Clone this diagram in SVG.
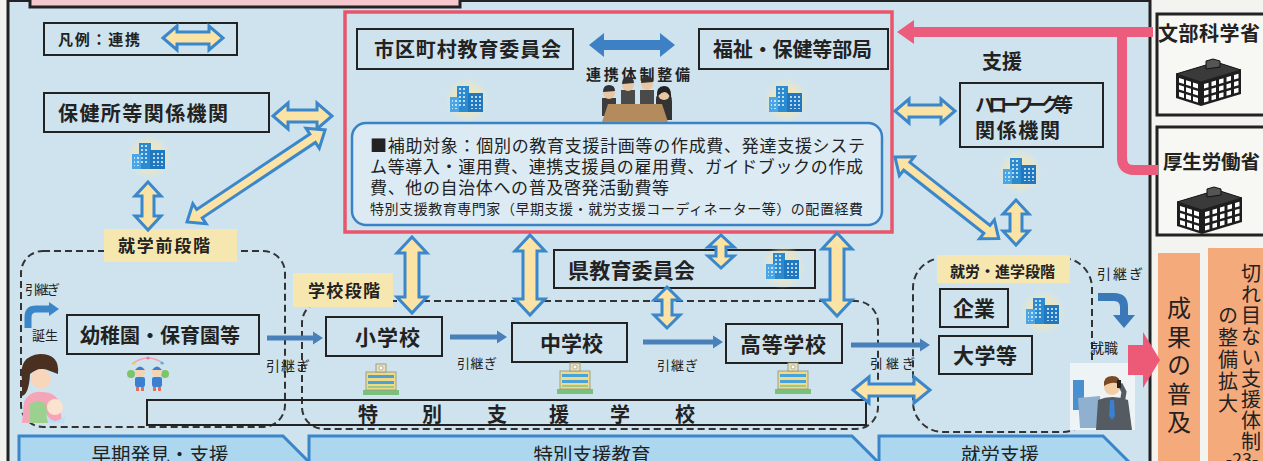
<svg xmlns="http://www.w3.org/2000/svg" width="1263" height="461" viewBox="0 0 1263 461">
  <style>
    .t { font-family: "Noto Sans CJK JP", "Noto Sans CJK SC", sans-serif; fill: #222; }
    .b { font-weight: 700; }
    .v { writing-mode: vertical-rl; }
    .box { fill: none; stroke: #222; stroke-width: 2; }
    .lbl { fill: #f6e7b1; }
    .dash { fill: none; stroke: #333; stroke-width: 2; stroke-dasharray: 7 4; }
    .dbl { fill: #fae3a5; stroke: #3b87cb; stroke-width: 3; stroke-linejoin: miter; }
    .arr { fill: #4a80b9; }
    .bar { fill: #acd7ee; stroke: #3a86c8; stroke-width: 3; }
    .org { fill: #f5aa7c; }
  </style>
  <defs>
    <radialGradient id="glow">
      <stop offset="0" stop-color="#fbe6a0" stop-opacity="0.95"/>
      <stop offset="0.6" stop-color="#f8e7b0" stop-opacity="0.6"/>
      <stop offset="1" stop-color="#f8e7b0" stop-opacity="0"/>
    </radialGradient>
    <pattern id="win" width="4" height="4" patternUnits="userSpaceOnUse">
      <rect width="2" height="2" fill="#dff0fb"/>
    </pattern>
    <!-- office building with soft glow -->
    <g id="bldg">
      <circle r="22" fill="url(#glow)"/>
      <rect x="-10" y="-14" width="12" height="26" fill="#2b8ad0"/>
      <rect x="-17" y="-3" width="9" height="15" fill="#4aa6e6"/>
      <rect x="1" y="-7" width="15" height="19" fill="#1f78c0"/>
      <rect x="-8" y="-12" width="8" height="20" fill="url(#win)" opacity="0.8"/>
      <rect x="3" y="-5" width="11" height="14" fill="url(#win)" opacity="0.8"/>
      <rect x="-15" y="-1" width="5" height="10" fill="url(#win)" opacity="0.8"/>
    </g>
    <!-- school building -->
    <g id="school">
      <rect x="-18" y="11" width="36" height="5" fill="#79c07a"/>
      <rect x="-15" y="-7" width="30" height="18" fill="#f1da86" stroke="#9aa08a" stroke-width="1"/>
      <rect x="-13" y="-4" width="26" height="3" fill="#4aa3d8"/>
      <rect x="-13" y="2" width="26" height="3" fill="#4aa3d8"/>
      <rect x="-13" y="7" width="26" height="2" fill="#99cc88"/>
      <rect x="-5" y="-15" width="10" height="8" fill="#e9dfb3" stroke="#9aa08a" stroke-width="1"/>
      <circle cy="-11" r="2" fill="#fff" stroke="#888" stroke-width="0.6"/>
    </g>
    <!-- ministry building, black and white -->
    <g id="ministry">
      <polygon points="0,16 40,4 65,12 25,24" fill="#3a3a3a" stroke="#111" stroke-width="1"/>
      <polygon points="30,11 30,3 37,1 44,3 44,9" fill="#555" stroke="#111" stroke-width="1"/>
      <polygon points="0,16 25,24 25,48 0,40" fill="#1e1e1e"/>
      <polygon points="25,24 65,12 65,36 25,48" fill="#1e1e1e"/>
      <g transform="matrix(1,-0.3,0,1,25,24)" fill="#fff">
        <rect x="3" y="3" width="4.5" height="4.5"/><rect x="10.5" y="3" width="4.5" height="4.5"/><rect x="18" y="3" width="4.5" height="4.5"/><rect x="25.5" y="3" width="4.5" height="4.5"/><rect x="33" y="3" width="4.5" height="4.5"/>
        <rect x="3" y="10" width="4.5" height="4.5"/><rect x="10.5" y="10" width="4.5" height="4.5"/><rect x="18" y="10" width="4.5" height="4.5"/><rect x="25.5" y="10" width="4.5" height="4.5"/><rect x="33" y="10" width="4.5" height="4.5"/>
        <rect x="3" y="17" width="4.5" height="4.5"/><rect x="10.5" y="17" width="4.5" height="4.5"/><rect x="18" y="17" width="4.5" height="4.5"/><rect x="25.5" y="17" width="4.5" height="4.5"/><rect x="33" y="17" width="4.5" height="4.5"/>
      </g>
      <g transform="matrix(1,0.32,0,1,0,16)" fill="#fff">
        <rect x="3" y="3" width="5" height="4.5"/><rect x="10" y="3" width="5" height="4.5"/><rect x="17" y="3" width="5" height="4.5"/>
        <rect x="3" y="10" width="5" height="4.5"/><rect x="10" y="10" width="5" height="4.5"/><rect x="17" y="10" width="5" height="4.5"/>
        <rect x="3" y="17" width="5" height="4.5"/><rect x="10" y="17" width="5" height="4.5"/><rect x="17" y="17" width="5" height="4.5"/>
      </g>
    </g>
  </defs>

  <!-- panels -->
  <rect x="0" y="0" width="1263" height="461" fill="#f3f3ef"/>
  <rect x="8" y="0.5" width="1142" height="475" fill="#cfe3ee" stroke="#222" stroke-width="3"/>
  <rect x="30" y="-6" width="430" height="13" fill="#f6c7cc" stroke="#222" stroke-width="3"/>

  <!-- stage frames -->
  <g id="stages">
    <rect class="dash" x="21" y="251" width="264" height="176" rx="22"/>
    <rect class="dash" x="302" y="301" width="576" height="128" rx="22"/>
    <rect class="dash" x="913" y="258" width="179" height="174" rx="30"/>
    <rect class="lbl" x="104" y="229" width="133" height="33"/>
    <text class="t b" x="118" y="252" font-size="17" textLength="92">就学前段階</text>
    <rect class="lbl" x="293" y="273" width="100" height="34"/>
    <text class="t b" x="308" y="297" font-size="17" textLength="72">学校段階</text>
    <rect class="lbl" x="937" y="255" width="133" height="28"/>
    <text class="t b" x="950" y="277" font-size="15" textLength="105">就労・進学段階</text>
  </g>

  <!-- legend -->
  <g id="legend">
    <rect class="box" x="44" y="23" width="193" height="32"/>
    <text class="t b" x="58" y="45" font-size="15" textLength="82">凡例：連携</text>
    <path class="dbl" transform="translate(163,38)" d="M0,0 L14,-12 L14,-6 L46,-6 L46,-12 L60,0 L46,12 L46,6 L14,6 L14,12 Z"/>
  </g>

  <!-- subsidy frame -->
  <g id="subsidy">
    <rect x="345" y="12" width="547" height="220" fill="none" stroke="#e9566c" stroke-width="3.5"/>
    <rect x="352" y="123" width="530" height="102" rx="14" fill="#dcebf3" stroke="#3b82c4" stroke-width="2.5"/>
    <text class="t" font-size="17">
      <tspan x="370" y="152" textLength="495">■補助対象：個別の教育支援計画等の作成費、発達支援システ</tspan>
      <tspan x="370" y="173" textLength="493">ム等導入・運用費、連携支援員の雇用費、ガイドブックの作成</tspan>
      <tspan x="370" y="194" textLength="299">費、他の自治体への普及啓発活動費等</tspan>
      <tspan x="370" y="214" font-size="14" textLength="493">特別支援教育専門家（早期支援・就労支援コーディネーター等）の配置経費</tspan>
    </text>
  </g>

  <g id="city-board">
    <rect class="box" x="357" y="29" width="216" height="40"/>
    <text class="t b" x="374" y="57" font-size="20" textLength="187">市区町村教育委員会</text>
    <use href="#bldg" x="467" y="100"/>
  </g>

  <g id="welfare">
    <rect class="box" x="699" y="29" width="189" height="40"/>
    <text class="t b" x="713" y="57" font-size="20" textLength="159">福祉・保健等部局</text>
    <use href="#bldg" x="786" y="100"/>
  </g>

  <g id="meeting">
    <text class="t b" x="586" y="80" font-size="15" textLength="104">連携体制整備</text>
    <rect x="602" y="98" width="14" height="18" fill="#3d3d3d"/>
    <rect x="621" y="90" width="14" height="16" fill="#4a4a4a"/>
    <rect x="640" y="90" width="14" height="16" fill="#4a4a4a"/>
    <path d="M656,100 Q656,92 664,92 Q672,92 672,102 L672,120 L656,120 Z" fill="#333"/>
    <circle cx="609" cy="93" r="6" fill="#e9c7a4"/>
    <path d="M603,92 Q603,85 609,85 Q615,85 615,91 Z" fill="#333"/>
    <circle cx="628" cy="85" r="6" fill="#e9c7a4"/>
    <path d="M622,84 Q622,77 628,77 Q634,77 634,83 Z" fill="#333"/>
    <circle cx="647" cy="84" r="6" fill="#e9c7a4"/>
    <path d="M641,83 Q641,76 647,76 Q653,76 653,82 Z" fill="#333"/>
    <circle cx="664" cy="94" r="6" fill="#e9c7a4"/>
    <path d="M657,97 Q656,86 664,86 Q672,86 671,99 L669,95 Q665,89 659,95 Z" fill="#222"/>
    <polygon points="608,104 662,104 668,122 602,122" fill="#b38b5d"/>
  </g>

  <g id="health-center">
    <rect class="box" x="44" y="93" width="225" height="39"/>
    <text class="t b" x="58" y="121" font-size="20" textLength="170">保健所等関係機関</text>
    <use href="#bldg" x="149" y="157"/>
  </g>

  <g id="hello-work">
    <text class="t b" x="982" y="69" font-size="20">支援</text>
    <rect class="box" x="960" y="83" width="143" height="64"/>
    <text class="t b" x="975" y="112" font-size="19" textLength="98">ハローワーク等</text>
    <text class="t b" x="975" y="138" font-size="20" textLength="85">関係機関</text>
    <use href="#bldg" x="1020" y="172"/>
  </g>

  <g id="mext">
    <rect x="1157" y="14" width="110" height="101" fill="#f7f7f3" stroke="#222" stroke-width="3"/>
    <text class="t b" x="1158" y="41" font-size="20" textLength="102">文部科学省</text>
    <use href="#ministry" transform="translate(1176,58)"/>
  </g>

  <g id="mhlw">
    <rect x="1157" y="127" width="110" height="108" fill="#f7f7f3" stroke="#222" stroke-width="3"/>
    <text class="t b" x="1163" y="169" font-size="19.5" textLength="97">厚生労働省</text>
    <use href="#ministry" transform="translate(1177,186)"/>
  </g>

  <g id="pref-board">
    <rect class="box" x="554" y="250" width="261" height="38"/>
    <text class="t b" x="568" y="278" font-size="21" textLength="127">県教育委員会</text>
    <use href="#bldg" x="783" y="267"/>
  </g>

  <g id="kindergarten">
    <text class="t" x="25" y="294" font-size="13" textLength="35">引継ぎ</text>
    <text class="t" x="32" y="340" font-size="13" textLength="26">誕生</text>
    <rect class="box" x="67" y="315" width="192" height="39"/>
    <text class="t b" x="80" y="343" font-size="20" textLength="160">幼稚園・保育園等</text>
    <!-- children holding hands -->
    <path d="M132,364 Q148,352 164,364" fill="none" stroke="#f2a0b0" stroke-width="1.5"/>
    <circle cx="134" cy="363" r="1.6" fill="#f6c84a"/><circle cx="148" cy="358" r="1.6" fill="#e87aa0"/><circle cx="162" cy="363" r="1.6" fill="#5ab0e0"/>
    <circle cx="131" cy="374" r="4" fill="#7cc46a"/><circle cx="165" cy="374" r="4" fill="#7cc46a"/>
    <circle cx="140" cy="372" r="5" fill="#f5d2b0"/><circle cx="157" cy="372" r="5" fill="#f5d2b0"/>
    <path d="M135,370 Q140,363 145,370 Z" fill="#3a7fd0"/><path d="M152,370 Q157,363 162,370 Z" fill="#3a7fd0"/>
    <rect x="135" y="377" width="10" height="10" rx="2" fill="#3a7fd0"/><rect x="152" y="377" width="10" height="10" rx="2" fill="#3a7fd0"/>
    <rect x="136" y="387" width="3" height="4" fill="#e46a5a"/><rect x="141" y="387" width="3" height="4" fill="#e46a5a"/>
    <rect x="153" y="387" width="3" height="4" fill="#e46a5a"/><rect x="158" y="387" width="3" height="4" fill="#e46a5a"/>
    <!-- mother and baby -->
    <path d="M22,380 Q18,356 40,354 Q60,354 58,374 L50,371 Q40,366 30,374 Q29,394 22,396 Z" fill="#4a3020"/>
    <circle cx="41" cy="379" r="10" fill="#f7d6bc"/>
    <path d="M24,402 Q30,390 42,392 Q56,392 60,404 L62,423 L22,423 Z" fill="#f4a6b8"/>
    <path d="M30,404 Q38,398 46,404 L48,423 L30,423 Z" fill="#9bd08f"/>
    <circle cx="55" cy="407" r="8" fill="#fbe3cf"/>
    <path d="M46,414 Q55,428 66,414 L64,423 L48,423 Z" fill="#bfe0f4"/>
  </g>

  <g id="elementary">
    <rect class="box" x="326" y="317" width="116" height="39"/>
    <text class="t b" x="355" y="345" font-size="21" textLength="65">小学校</text>
    <use href="#school" x="381" y="379"/>
  </g>

  <g id="junior-high">
    <rect class="box" x="512" y="323" width="115" height="39"/>
    <text class="t b" x="540" y="351" font-size="21" textLength="63">中学校</text>
    <use href="#school" x="575" y="378"/>
  </g>

  <g id="high-school">
    <rect class="box" x="726" y="324" width="116" height="39"/>
    <text class="t b" x="740" y="352" font-size="21" textLength="86">高等学校</text>
    <use href="#school" x="793" y="378"/>
  </g>

  <g id="special-school">
    <rect class="box" x="147" y="400" width="719" height="25"/>
    <g class="t b" font-size="20" text-anchor="middle">
      <text x="368" y="422">特</text><text x="432" y="422">別</text><text x="497" y="422">支</text>
      <text x="559" y="422">援</text><text x="620" y="422">学</text><text x="685" y="422">校</text>
    </g>
  </g>

  <g id="company">
    <rect class="box" x="940" y="289" width="68" height="38"/>
    <text class="t b" x="953" y="316" font-size="21" textLength="42">企業</text>
    <use href="#bldg" x="1043" y="312"/>
  </g>

  <g id="university">
    <rect class="box" x="939" y="336" width="93" height="38"/>
    <text class="t b" x="953" y="363" font-size="21" textLength="64">大学等</text>
  </g>

  <g id="employment">
    <text class="t" x="1097" y="279" font-size="14" textLength="46">引継ぎ</text>
    <text class="t" x="1090" y="353" font-size="14" textLength="28">就職</text>
    <rect x="1070" y="363" width="65" height="67" fill="#eef3f6"/>
    <rect x="1073" y="380" width="11" height="30" fill="#4a90d0"/>
    <path d="M1078,398 L1100,396 L1102,428 L1080,428 Z" fill="#8fb0cf"/>
    <path d="M1098,400 Q1112,394 1128,400 L1132,430 L1096,430 Z" fill="#555b63"/>
    <polygon points="1110,400 1114,400 1115,416 1112,420 1109,416" fill="#3a7fd0"/>
    <circle cx="1112" cy="387" r="8" fill="#f2cda8"/>
    <path d="M1104,386 Q1103,376 1112,376 Q1121,376 1120,385 Q1114,380 1104,386 Z" fill="#7a4a26"/>
    <path d="M1122,404 L1124,392 L1120,384" fill="none" stroke="#555b63" stroke-width="5"/>
    <rect x="1117" y="380" width="4" height="8" fill="#222"/>
  </g>

  <g id="outcome">
    <rect class="org" x="1158" y="253" width="42" height="215"/>
    <text class="t v" x="1179" y="296" font-size="24" letter-spacing="4.5">成果の普及</text>
  </g>

  <g id="expansion">
    <rect class="org" x="1208" y="248" width="60" height="220"/>
    <text class="t v" x="1251" y="263" font-size="20" letter-spacing="1">切れ目ない支援体制</text>
    <text class="t v" x="1228" y="305" font-size="20" letter-spacing="2">の整備拡大</text>
    <text class="t" x="1242" y="466" font-size="18" text-anchor="middle">-23-</text>
  </g>

  <g id="phases">
    <polygon class="bar" points="19,436 283,436 309,462 283,488 19,488"/>
    <polygon class="bar" points="309,436 852,436 878,462 852,488 309,488"/>
    <polygon class="bar" points="879,436 1103,436 1129,462 1103,488 879,488"/>
    <text class="t" x="160" y="462" font-size="19.5" text-anchor="middle" textLength="137">早期発見・支援</text>
    <text class="t" x="592" y="462" font-size="19.5" text-anchor="middle" textLength="117">特別支援教育</text>
    <text class="t" x="1000" y="462" font-size="19.5" text-anchor="middle" textLength="78">就労支援</text>
  </g>

  <g id="connectors">
    <!-- cooperation arrows -->
    <path class="dbl" transform="translate(273,116)" d="M0,0 L15,-13 L15,-6 L44,-6 L44,-13 L59,0 L44,13 L44,6 L15,6 L15,13 Z"/>
    <path class="dbl" transform="translate(187,222) rotate(-33.7)" d="M0,0 L15,-12 L15,-5 L151,-5 L151,-12 L166,0 L151,12 L151,5 L15,5 L15,12 Z"/>
    <path class="dbl" transform="translate(148,182) rotate(90)" d="M0,0 L14,-13 L14,-6 L34,-6 L34,-13 L48,0 L34,13 L34,6 L14,6 L14,13 Z"/>
    <path class="dbl" transform="translate(412,237) rotate(90)" d="M0,0 L16,-15 L16,-7 L60,-7 L60,-15 L76,0 L60,15 L60,7 L16,7 L16,15 Z"/>
    <path class="dbl" transform="translate(530,235) rotate(90)" d="M0,0 L16,-15 L16,-7 L64,-7 L64,-15 L80,0 L64,15 L64,7 L16,7 L16,15 Z"/>
    <path class="dbl" transform="translate(721,235) rotate(90)" d="M0,0 L12,-13 L12,-5 L21,-5 L21,-13 L33,0 L21,13 L21,5 L12,5 L12,13 Z"/>
    <path class="dbl" transform="translate(667,287) rotate(90)" d="M0,0 L13,-13 L13,-5 L28,-5 L28,-13 L41,0 L28,13 L28,5 L13,5 L13,13 Z"/>
    <path class="dbl" transform="translate(837,233) rotate(90)" d="M0,0 L16,-15 L16,-7 L67,-7 L67,-15 L83,0 L67,15 L67,7 L16,7 L16,15 Z"/>
    <path class="dbl" transform="translate(895,111)" d="M0,0 L14,-12 L14,-6 L46,-6 L46,-12 L60,0 L46,12 L46,6 L14,6 L14,12 Z"/>
    <path class="dbl" transform="translate(895,157) rotate(38.2)" d="M0,0 L15,-12 L15,-5 L117,-5 L117,-12 L132,0 L117,12 L117,5 L15,5 L15,12 Z"/>
    <path class="dbl" transform="translate(1016,200) rotate(90)" d="M0,0 L14,-13 L14,-6 L31,-6 L31,-13 L45,0 L31,13 L31,6 L14,6 L14,13 Z"/>
    <path class="dbl" transform="translate(853,390)" d="M0,0 L16,-13 L16,-6 L61,-6 L61,-13 L77,0 L61,13 L61,6 L16,6 L16,13 Z"/>

    <!-- coordination between boards -->
    <path transform="translate(589,45)" fill="#3e80c4" d="M0,0 L15,-12 L15,-5 L71,-5 L71,-12 L86,0 L71,12 L71,5 L15,5 L15,12 Z"/>

    <!-- hand-over arrows -->
    <path class="arr" d="M267,335.5 L313,335.5 L313,331.5 L323,338 L313,344.5 L313,340.5 L267,340.5 Z"/>
    <path class="arr" d="M450,334.5 L497,334.5 L497,330.5 L507,337 L497,343.5 L497,339.5 L450,339.5 Z"/>
    <path class="arr" d="M643,339.5 L713,339.5 L713,335.5 L723,342 L713,348.5 L713,344.5 L643,344.5 Z"/>
    <path class="arr" d="M851,342.5 L920,342.5 L920,338.5 L930,345 L920,351.5 L920,347.5 L851,347.5 Z"/>
    <text class="t" x="266" y="371" font-size="14" textLength="44">引継ぎ</text>
    <text class="t" x="457" y="368" font-size="13" textLength="40">引継ぎ</text>
    <text class="t" x="657" y="370" font-size="13" textLength="41">引継ぎ</text>
    <text class="t" x="870" y="368" font-size="13" textLength="45">引継ぎ</text>

    <!-- birth and employment bends -->
    <path d="M28,328 V317 Q28,309 36,309 H49" fill="none" stroke="#3b86c8" stroke-width="7"/>
    <polygon points="49,302 59,309 49,316" fill="#3b86c8"/>
    <path d="M1098,297 H1114 Q1124,297 1124,307 V316" fill="none" stroke="#3a78b8" stroke-width="8"/>
    <polygon points="1113,315 1135,315 1124,328" fill="#3a78b8"/>

    <!-- ministry support -->
    <path d="M912,32 H1153" fill="none" stroke="#ec5c7c" stroke-width="10"/>
    <polygon points="897,32 914,20 914,44" fill="#ec5c7c"/>
    <path d="M1122,32 V158 Q1122,170 1134,170 H1158" fill="none" stroke="#ec5c7c" stroke-width="10"/>

    <!-- outcome -->
    <polygon points="1128,345 1143,345 1143,332 1160,360 1143,388 1143,375 1128,375" fill="#ec5a78"/>
  </g>
</svg>
